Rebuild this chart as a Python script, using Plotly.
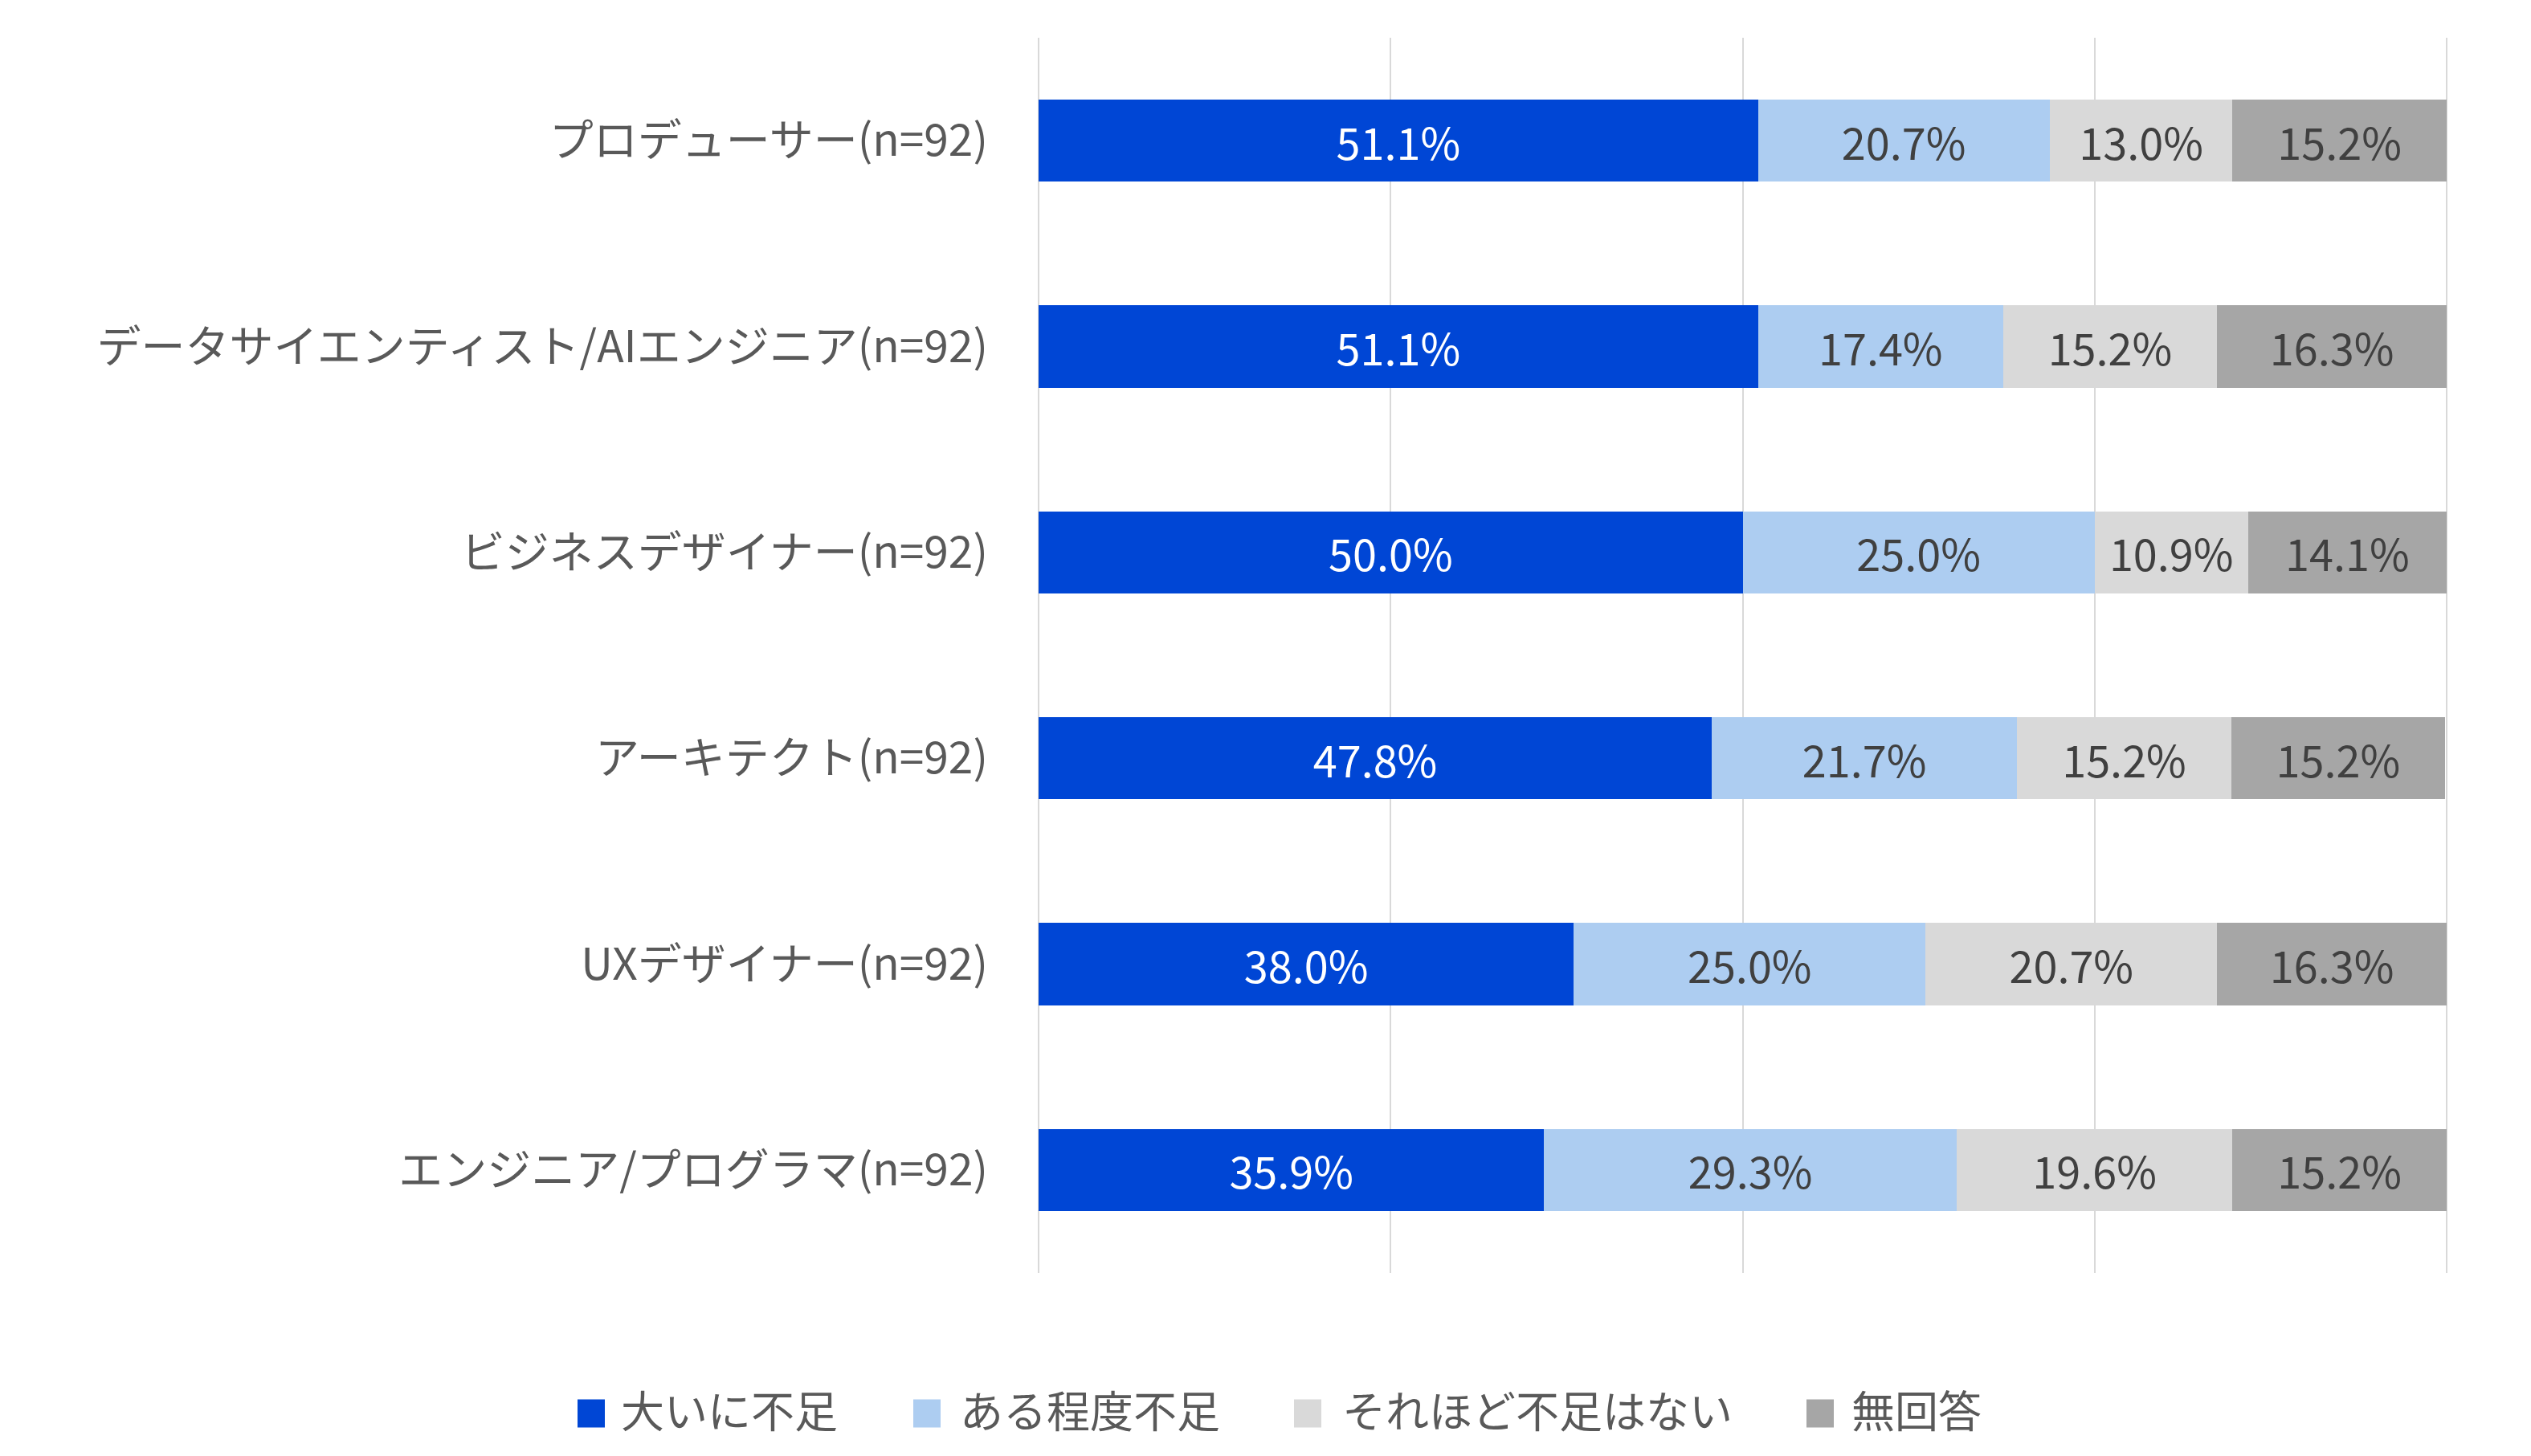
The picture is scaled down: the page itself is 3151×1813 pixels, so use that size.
import plotly.graph_objects as go

categories = [
    "プロデューサー(n=92)",
    "データサイエンティスト/AIエンジニア(n=92)",
    "ビジネスデザイナー(n=92)",
    "アーキテクト(n=92)",
    "UXデザイナー(n=92)",
    "エンジニア/プログラマ(n=92)",
]
series_names = ["大いに不足", "ある程度不足", "それほど不足はない", "無回答"]
taiini_fusoku = [51.1, 51.1, 50.0, 47.8, 38.0, 35.9]
aruteido_fusoku = [20.7, 17.4, 25.0, 21.7, 25.0, 29.3]
sorehodo = [13.0, 15.2, 10.9, 15.2, 20.7, 19.6]
mukaito = [15.2, 16.3, 14.1, 15.2, 16.3, 15.2]
x_ticks = [0, 25, 50, 75, 100]

series_values = [taiini_fusoku, aruteido_fusoku, sorehodo, mukaito]
colors = ["#0046D5", "#ADCDF1", "#D9D9D9", "#A6A6A6"]
text_colors = ["#FFFFFF", "#404040", "#404040", "#404040"]

FONT = "Noto Sans CJK JP"
W, H = 3151, 1813
OFF = 8  # page body margin

# plot area in page pixels
PX0, PX1 = 1291, 3048
PY0, PY1 = 47, 1585
ML = PX0 - OFF
MR = W - (PX1 - OFF)
MT = PY0 - OFF
MB = H - (PY1 - OFF)

def px_to_paper_x(px):
    return (px - PX0) / (PX1 - PX0)

def px_to_paper_y(py):
    return (PY1 - py) / (PY1 - PY0)

fig = go.Figure()
for name, vals, c, tc in zip(series_names, series_values, colors, text_colors):
    fig.add_trace(go.Bar(
        y=categories, x=vals, name=name, orientation="h",
        marker=dict(color=c, line=dict(width=0)),
        texttemplate="%{x:.1f}%", textposition="inside",
        insidetextanchor="middle", textangle=0,
        insidetextfont=dict(family=FONT, size=54, color=tc),
        hoverinfo="skip", showlegend=False,
    ))

# legend (swatch + label)
legend_swatch_left = [719, 1137, 1611, 2249]
legend_text_left = [771, 1193, 1669, 2303]
LEG_Y = 1760
LEG_TEXT_Y = 1754
SW, SH = 34, 35
shapes = []
annotations = []
for name, c, sx, tx in zip(series_names, colors, legend_swatch_left, legend_text_left):
    shapes.append(dict(
        type="rect", xref="paper", yref="paper",
        x0=px_to_paper_x(sx), x1=px_to_paper_x(sx + SW),
        y0=px_to_paper_y(LEG_Y + SH / 2), y1=px_to_paper_y(LEG_Y - SH / 2),
        fillcolor=c, line=dict(width=0), layer="above",
    ))
    annotations.append(dict(
        text=name, xref="paper", yref="paper",
        x=px_to_paper_x(tx), y=px_to_paper_y(LEG_TEXT_Y),
        xanchor="left", yanchor="middle", showarrow=False,
        font=dict(family=FONT, size=54, color="#595959"),
    ))

fig.update_layout(
    width=W, height=H,
    barmode="stack", bargap=0.6,
    plot_bgcolor="white", paper_bgcolor="white",
    margin=dict(l=ML, r=MR, t=MT, b=MB),
    font=dict(family=FONT, size=54, color="#595959"),
    uniformtext=dict(minsize=54, mode="show"),
    showlegend=False,
    shapes=shapes, annotations=annotations,
)
fig.update_xaxes(
    range=[-0.12, 100.12], tickvals=x_ticks, showticklabels=False,
    showgrid=True, gridcolor="#D9D9D9", gridwidth=2,
    zeroline=False, showline=False, fixedrange=True,
)
fig.update_yaxes(
    autorange="reversed", showgrid=False, zeroline=False, showline=False,
    ticks="", ticklabelstandoff=60,
    tickfont=dict(family=FONT, size=55, color="#595959"),
)

fig.write_html("out.html")
